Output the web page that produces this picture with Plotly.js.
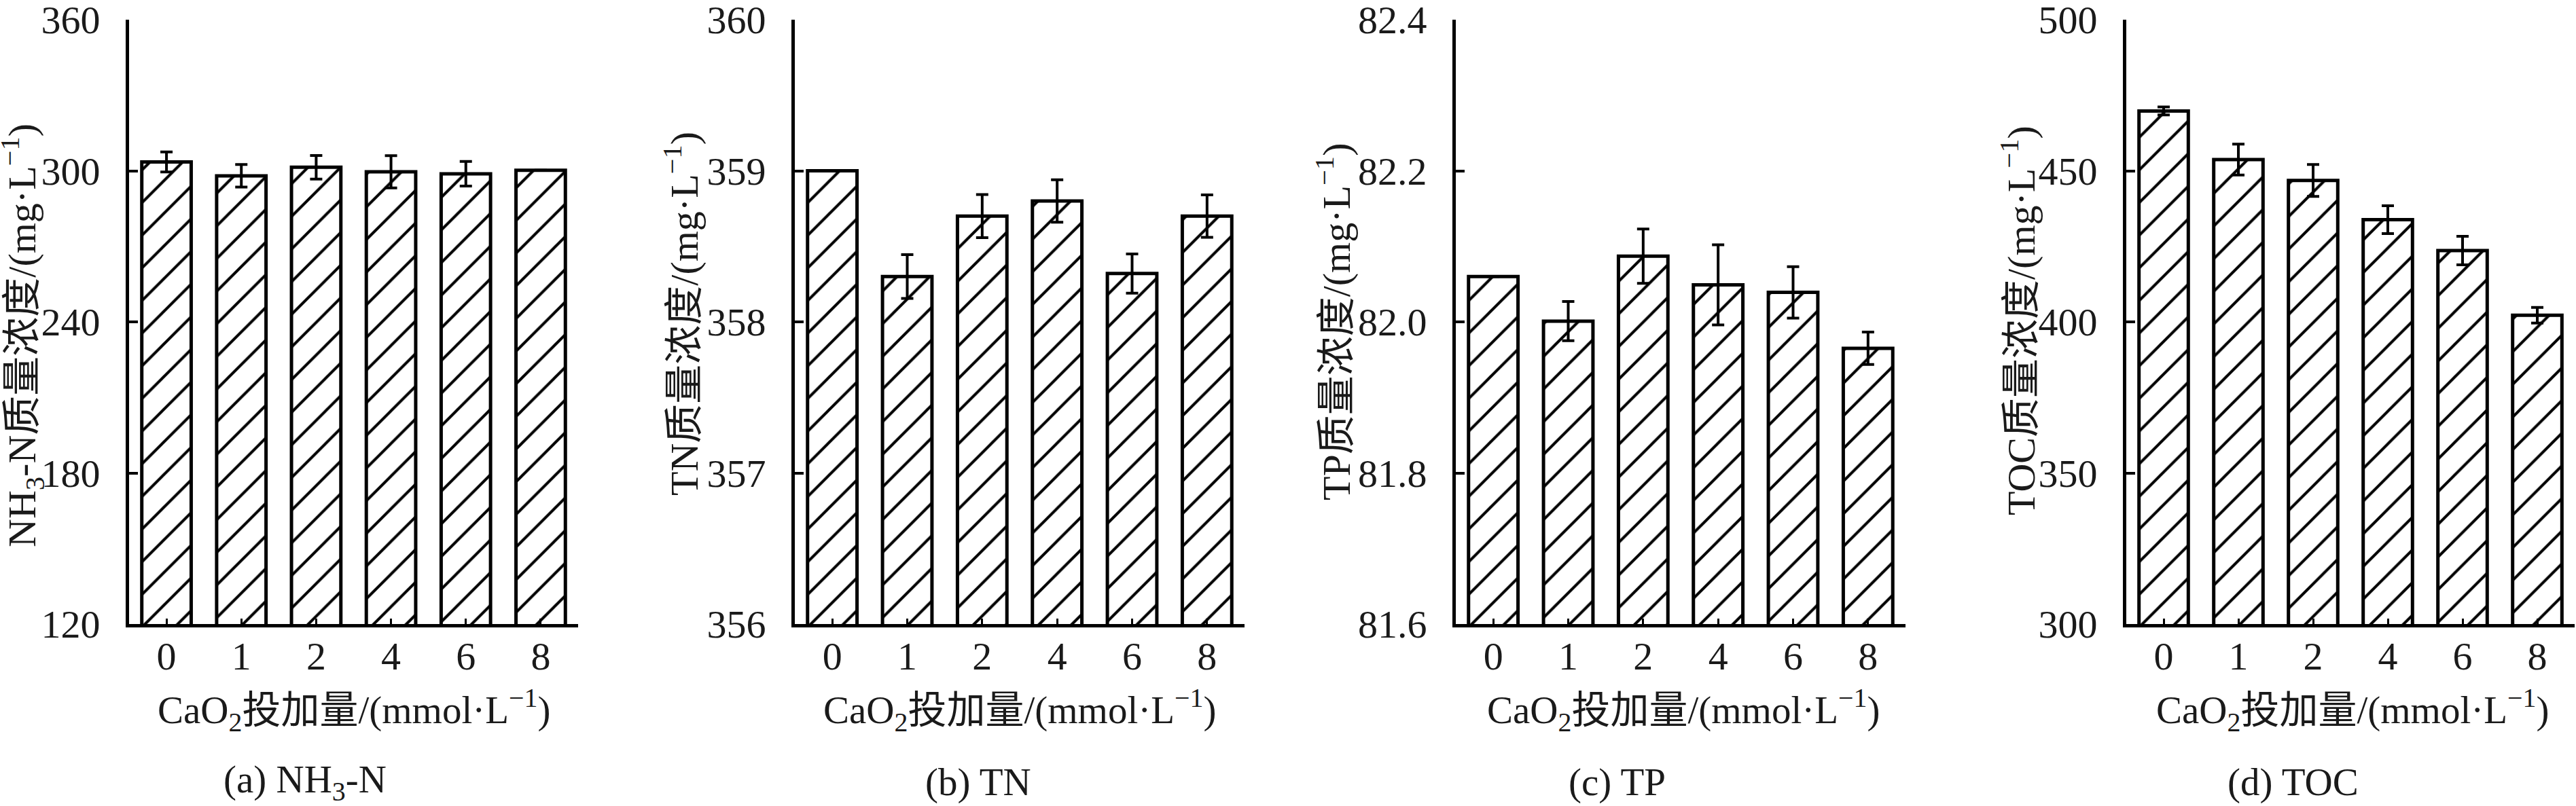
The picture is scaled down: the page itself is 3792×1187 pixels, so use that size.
<!DOCTYPE html>
<html>
<head>
<meta charset="utf-8">
<script src="https://cdn.plot.ly/plotly-3.0.1.min.js"></script>
<style>html,body{margin:0;padding:0;background:#fff;}#chart{width:3792px;height:1187px;}</style>
</head>
<body>
<div id="chart"></div>
<script>
// ---- data ----
const categories = ['0', '1', '2', '4', '6', '8'];
const nh3 = [303.5, 298.0, 301.4, 299.6, 298.8, 300.2];
const nh3Err = [4.0, 4.5, 4.7, 6.4, 4.9, 0];
const tn = [359.0, 358.30, 358.70, 358.80, 358.32, 358.70];
const tnErr = [0, 0.145, 0.143, 0.14, 0.13, 0.14];
const tp = [82.060, 82.001, 82.087, 82.049, 82.039, 81.965];
const tpErr = [0, 0.026, 0.036, 0.053, 0.034, 0.0215];
const toc = [469.8, 453.7, 446.8, 433.8, 423.6, 402.2];
const tocErr = [1.3, 5.1, 5.3, 4.6, 4.7, 2.6];

const yTitles = [
  'NH<sub>3</sub>-N质量浓度/(mg·L<sup>−1</sup>)',
  'TN质量浓度/(mg·L<sup>−1</sup>)',
  'TP质量浓度/(mg·L<sup>−1</sup>)',
  'TOC质量浓度/(mg·L<sup>−1</sup>)'
];
const xTitle = 'CaO<sub>2</sub>投加量/(mmol·L<sup>−1</sup>)';
const captions = ['(a) NH<sub>3</sub>-N', '(b) TN', '(c) TP', '(d) TOC'];
const yRanges = [[120, 360], [356, 360], [81.6, 82.4], [300, 500]];
const yDticks = [60, 1, 0.2, 50];
const yFormats = ['d', 'd', '.1f', 'd'];

// ---- layout geometry (pixels) ----
const W = 3792, H = 1187;
const plotX = [[190, 851], [1170, 1832], [2143, 2805], [3130, 3790]];
const yTitleX = [33, 1003, 1963, 2971];
const yTitleY = [494, 462, 474, 472];
const xTitleX = [521, 1501, 2478, 3463];
const capX = [449, 1440, 2380, 3375];
const plotTop = 29, plotBottom = 919;

const FONT = 'Liberation Serif, Noto Sans CJK SC, serif';
const TXT = '#1a1a1a';
const TICKSIZE = 58;

const series = [[nh3, nh3Err], [tn, tnErr], [tp, tpErr], [toc, tocErr]];
const xIdx = categories.map((c, i) => i);

const traces = series.map((s, k) => ({
  type: 'bar',
  x: xIdx,
  y: s[0],
  width: 0.66,
  xaxis: k === 0 ? 'x' : 'x' + (k + 1),
  yaxis: k === 0 ? 'y' : 'y' + (k + 1),
  marker: {
    color: '#ffffff',
    line: {color: '#000000', width: 5},
    pattern: {shape: '/', fgcolor: '#000000', bgcolor: '#ffffff', size: 34, solidity: 0.12, fillmode: 'replace'}
  },
  error_y: {type: 'data', array: s[1], visible: true, color: '#000000', thickness: 4, width: 9},
  showlegend: false,
  hoverinfo: 'skip'
}));

const layout = {
  width: W, height: H,
  margin: {l: 0, r: 0, t: 0, b: 0, pad: 0},
  paper_bgcolor: '#ffffff',
  plot_bgcolor: 'rgba(0,0,0,0)',
  showlegend: false,
  font: {family: FONT, color: TXT, size: 56},
  annotations: []
};

for (let k = 0; k < 4; k++) {
  const xn = k === 0 ? 'xaxis' : 'xaxis' + (k + 1);
  const yn = k === 0 ? 'yaxis' : 'yaxis' + (k + 1);
  const xa = k === 0 ? 'x' : 'x' + (k + 1);
  const ya = k === 0 ? 'y' : 'y' + (k + 1);
  layout[xn] = {
    domain: [plotX[k][0] / W, plotX[k][1] / W],
    anchor: ya,
    range: [-0.5, 5.5],
    tickmode: 'array',
    tickvals: xIdx.concat([5.5]),
    ticktext: categories.concat(['']),
    ticks: 'inside', ticklen: 8, tickwidth: 3, tickcolor: '#000',
    showline: true, linecolor: '#000', linewidth: 5,
    showgrid: false, zeroline: false,
    tickfont: {family: FONT, size: TICKSIZE, color: TXT},
    ticklabelstandoff: -8,
    ticklabeloverflow: 'allow',
    fixedrange: true
  };
  layout[yn] = {
    domain: [1 - plotBottom / H, 1 - plotTop / H],
    anchor: xa,
    range: yRanges[k],
    dtick: yDticks[k],
    tick0: yRanges[k][0],
    tickformat: yFormats[k],
    ticks: 'inside', ticklen: 13, tickwidth: 4, tickcolor: '#000',
    showline: true, linecolor: '#000', linewidth: 5,
    showgrid: false, zeroline: false,
    tickfont: {family: FONT, size: TICKSIZE, color: TXT},
    ticklabelstandoff: 26,
    ticklabeloverflow: 'allow',
    fixedrange: true
  };
  layout.annotations.push({
    text: yTitles[k], xref: 'paper', yref: 'paper',
    x: yTitleX[k] / W, y: 1 - yTitleY[k] / H, xanchor: 'center', yanchor: 'middle',
    textangle: -90, showarrow: false,
    font: {family: FONT, size: 58, color: TXT}
  });
  layout.annotations.push({
    text: xTitle, xref: 'paper', yref: 'paper',
    x: xTitleX[k] / W, y: 1 - 1045 / H, xanchor: 'center', yanchor: 'middle',
    showarrow: false,
    font: {family: FONT, size: 57, color: TXT}
  });
  layout.annotations.push({
    text: captions[k], xref: 'paper', yref: 'paper',
    x: capX[k] / W, y: 1 - 1152 / H, xanchor: 'center', yanchor: 'middle',
    showarrow: false,
    font: {family: FONT, size: 57, color: TXT}
  });
}

Plotly.newPlot('chart', traces, layout, {displayModeBar: false, staticPlot: true});
</script>
</body>
</html>
